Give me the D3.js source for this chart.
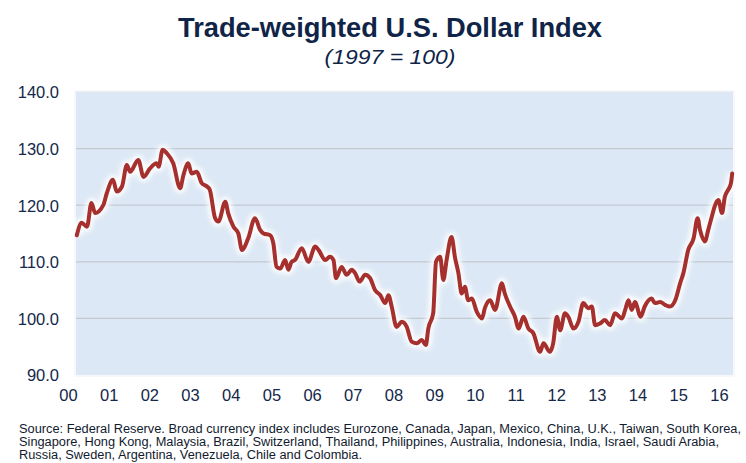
<!DOCTYPE html>
<html><head><meta charset="utf-8">
<script src="https://cdn.jsdelivr.net/npm/d3@7"></script>
<style>
html,body{margin:0;padding:0;background:#fff;}
svg{display:block;}
</style></head>
<body>
<script>
// ---- data ----
const years = [2000.02,2000.14,2000.27,2000.38,2000.47,2000.67,2000.76,2000.91,2001.00,2001.13,2001.25,2001.33,2001.53,2001.66,2001.82,2001.98,2002.03,2002.13,2002.23,2002.39,2002.56,2002.64,2002.76,2002.84,2002.97,2003.09,2003.22,2003.29,2003.42,2003.50,2003.67,2003.74,2003.87,2003.99,2004.08,2004.23,2004.40,2004.53,2004.61,2004.77,2004.85,2004.93,2005.02,2005.14,2005.22,2005.30,2005.38,2005.55,2005.71,2005.88,2005.96,2006.13,2006.24,2006.33,2006.39,2006.53,2006.65,2006.78,2006.86,2006.97,2007.11,2007.23,2007.35,2007.48,2007.60,2007.68,2007.76,2007.88,2008.01,2008.13,2008.25,2008.38,2008.50,2008.60,2008.66,2008.78,2008.85,2008.95,2009.03,2009.11,2009.23,2009.32,2009.40,2009.48,2009.56,2009.64,2009.73,2009.85,2009.98,2010.05,2010.18,2010.30,2010.47,2010.54,2010.67,2010.79,2010.88,2011.00,2011.12,2011.24,2011.41,2011.49,2011.65,2011.73,2011.82,2011.90,2012.02,2012.10,2012.23,2012.35,2012.47,2012.59,2012.68,2012.76,2012.88,2013.00,2013.13,2013.25,2013.42,2013.50,2013.58,2013.66,2013.74,2013.88,2013.98,2014.15,2014.23,2014.36,2014.48,2014.60,2014.73,2014.85,2014.93,2015.05,2015.18,2015.28,2015.34,2015.46,2015.54,2015.63,2015.71,2015.79,2015.88,2015.95,2016.03,2016.10,2016.13];
const values = [114.7,116.9,116.2,120.4,118.6,120.0,122.2,124.5,122.4,123.3,127.1,125.9,128.0,125.0,126.5,127.4,126.8,129.8,129.2,127.4,123.0,125.3,127.4,125.6,125.9,123.9,123.3,122.7,117.7,117.1,120.6,118.6,116.2,115.0,112.1,114.1,117.7,115.6,115.0,114.7,113.3,109.1,108.8,110.3,108.6,110.0,110.3,112.4,110.0,112.7,112.1,110.3,110.9,110.3,107.1,109.1,107.7,108.6,108.0,106.5,107.7,107.1,105.0,104.1,102.7,104.1,102.1,98.5,99.4,98.5,95.9,95.6,96.2,95.3,98.2,100.9,110.0,110.9,106.8,110.3,114.4,110.6,108.0,104.4,105.6,103.2,103.5,101.2,100.0,101.8,103.2,101.5,106.2,104.4,102.1,100.3,98.2,100.3,98.2,97.4,94.1,95.6,94.1,95.6,100.3,97.9,100.9,100.3,98.2,99.4,102.7,101.8,102.1,98.8,99.1,99.7,98.8,100.9,100.0,101.5,103.2,101.5,102.9,100.3,102.1,103.5,102.7,102.9,102.4,102.1,103.2,106.2,108.0,112.1,114.1,117.7,115.6,113.6,115.6,118.0,120.0,120.9,118.6,121.5,122.7,123.9,125.6];
const yTicks = [90,100,110,120,130,140];
const xTickYears = d3.range(2000, 2017);
const xTickLabels = ["00","01","02","03","04","05","06","07","08","09","10","11","12","13","14","15","16"];
const title = "Trade-weighted U.S. Dollar Index";
const subtitle = "(1997 = 100)";
const footnote = [
  "Source: Federal Reserve. Broad currency index includes Eurozone, Canada, Japan, Mexico, China, U.K., Taiwan, South Korea,",
  "Singapore, Hong Kong, Malaysia, Brazil, Switzerland, Thailand, Philippines, Australia, Indonesia, India, Israel, Saudi Arabia,",
  "Russia, Sweden, Argentina, Venezuela, Chile and Colombia."
];

// ---- layout ----
const W = 746, H = 463;
const plot = {left: 76, right: 733, top: 92, bottom: 375};
const navy = "#13284a";

const svg = d3.select("body").append("svg").attr("width", W).attr("height", H);
const defs = svg.append("defs");
const f = defs.append("filter").attr("id","glow").attr("x","-5%").attr("y","-5%").attr("width","110%").attr("height","110%");
f.append("feGaussianBlur").attr("stdDeviation", 2.4);

const x = d3.scaleLinear().domain([2000, 2016.15]).range([plot.left, plot.right]);
const y = d3.scaleLinear().domain([90, 140]).range([plot.bottom, plot.top]);

// plot background
svg.append("rect").attr("x", plot.left).attr("y", plot.top)
  .attr("width", plot.right - plot.left).attr("height", plot.bottom - plot.top)
  .attr("fill", "#dce8f5");
svg.append("rect").attr("x", plot.left - 1).attr("y", plot.top - 1)
  .attr("width", plot.right - plot.left + 2).attr("height", plot.bottom - plot.top + 2)
  .attr("fill", "none").attr("stroke", "#eef2f7").attr("stroke-width", 1);

// gridlines
svg.append("g").selectAll("line").data(yTicks.filter(t => t > 90)).join("line")
  .attr("x1", plot.left).attr("x2", plot.right)
  .attr("y1", d => y(d)).attr("y2", d => y(d))
  .attr("stroke", d => d === 140 ? "#e3e8ee" : "#c3c9d1").attr("stroke-width", 1.2);

// y axis labels
const yAxis = d3.axisLeft(y).tickValues(yTicks).tickFormat(d3.format(".1f")).tickSize(0).tickPadding(0);
const gy = svg.append("g").attr("transform", `translate(${plot.left - 17},0)`).call(yAxis);
gy.select(".domain").remove();
gy.selectAll("text").attr("font-family", "Liberation Sans, Arial, sans-serif")
  .attr("font-size", 16.5).attr("fill", navy).attr("dy", "0.36em");

// x axis labels
const xAxis = d3.axisBottom(x).tickValues(xTickYears)
  .tickFormat((d, i) => xTickLabels[i]).tickSize(0).tickPadding(0);
const gx = svg.append("g").attr("transform", `translate(-8,${plot.bottom + 14})`).call(xAxis);
gx.select(".domain").remove();
gx.selectAll("text").attr("font-family", "Liberation Sans, Arial, sans-serif")
  .attr("font-size", 16.5).attr("fill", navy).attr("dy", "0.71em");

// line
const pts = years.map((yr, i) => [yr, values[i]]);
const line = d3.line().x(d => x(d[0])).y(d => y(d[1])).curve(d3.curveMonotoneX);
svg.append("path").datum(pts).attr("d", line).attr("fill", "none")
  .attr("stroke", "#ffffff").attr("stroke-width", 10).attr("stroke-opacity", 0.95)
  .attr("stroke-linejoin", "round").attr("filter", "url(#glow)");
svg.append("path").datum(pts).attr("d", line).attr("fill", "none")
  .attr("stroke", "#a5302d").attr("stroke-width", 4)
  .attr("stroke-linejoin", "round").attr("stroke-linecap", "round");

// title
svg.append("text").attr("x", 390).attr("y", 37).attr("text-anchor", "middle")
  .attr("font-family", "Liberation Sans, Arial, sans-serif").attr("font-weight", "bold")
  .attr("font-size", 28).attr("fill", "#0f2447")
  .attr("textLength", 424).attr("lengthAdjust", "spacingAndGlyphs").text(title);
svg.append("text").attr("x", 390).attr("y", 64).attr("text-anchor", "middle")
  .attr("font-family", "Liberation Sans, Arial, sans-serif").attr("font-style", "italic")
  .attr("font-size", 21).attr("fill", "#0f2447")
  .attr("textLength", 131).attr("lengthAdjust", "spacingAndGlyphs").text(subtitle);

// footnote
const fn = svg.append("g").attr("font-family", "Liberation Sans, Arial, sans-serif")
  .attr("fill", "#111a2e");
const fnTexts = fn.selectAll("text").data(footnote).join("text")
  .attr("x", 19).attr("y", (d, i) => 433 + i * 13)
  .attr("font-size", 12).text(d => d);
const lens = fnTexts.nodes().map(n => n.getComputedTextLength());
const s = 722 / lens[0];
fnTexts.attr("textLength", (d, i) => lens[i] * s).attr("lengthAdjust", "spacingAndGlyphs");
</script>
</body></html>
